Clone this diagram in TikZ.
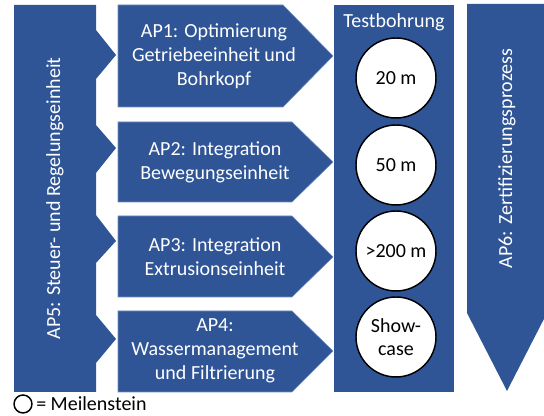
\documentclass[tikz,border=0pt]{standalone}
\usepackage{fontspec}
\setmainfont{Carlito}
\definecolor{apblue}{RGB}{47,85,151}
\definecolor{apedge}{RGB}{110,140,190}

\begin{document}
\begin{tikzpicture}[x=0.75pt,y=0.75pt,yscale=-1,xscale=1,
  apbox/.style={fill=apblue, draw=apedge, line width=0.4pt},
  aptext/.style={text=white, align=center, inner sep=0.75pt, font=\fontsize{15}{18}\selectfont},
  milestone/.style={circle, draw=black, fill=white, line width=1.1pt, minimum size=60pt, inner sep=0pt, align=center, font=\fontsize{15}{17}\selectfont}]
\useasboundingbox (0,0) rectangle (544,416);
% AP5 bar with notches
\fill [apblue] (14,5) -- (96,5) -- (96,30) -- (116,55) -- (96,79) -- (96,125) -- (116,148) -- (96,173) -- (96,215) -- (116,241) -- (96,263) -- (96,315) -- (116,339) -- (96,363) -- (96,392) -- (14,392) -- cycle ;
\node [aptext, rotate=90] (ap5) at (55,198.5) {AP5: Steuer- und Regelungseinheit};
% AP1 - AP4
\draw [apbox] (118,5) -- (283,5) -- (333,56) -- (283,107) -- (118,107) -- cycle ;
\draw [apbox] (118,122) -- (292,122) -- (333,162) -- (292,202) -- (118,202) -- cycle ;
\draw [apbox] (118,216) -- (292,216) -- (333,257) -- (292,297) -- (118,297) -- cycle ;
\draw [apbox] (118,311) -- (292,311) -- (333,351) -- (292,392) -- (118,392) -- cycle ;
\node [aptext] (ap1) at (214,56) {AP1: Optimierung\\Getriebeeinheit und\\Bohrkopf};
\node [aptext] (ap2) at (215,162) {AP2: Integration\\Bewegungseinheit};
\node [aptext] (ap3) at (215,257) {AP3: Integration\\Extrusionseinheit};
\node [aptext] (ap4) at (215,351) {AP4:\\Wassermanagement\\und Filtrierung};
% Testbohrung
\fill [apblue] (334,5) rectangle (454,392) ;
\node [aptext] (test) at (394,22) {Testbohrung};
\node [milestone] (m1) at (396,78) {20 m};
\node [milestone] (m2) at (396,165) {50 m};
\node [milestone] (m3) at (396,251) {>200 m};
\node [milestone] (m4) at (396,337) {Show-\\case};
% AP6
\fill [apblue] (467,4) -- (547,4) -- (547,313) -- (507,391) -- (467,313) -- cycle ;
\node [aptext, rotate=90] (ap6) at (507,158.5) {AP6: Zertifizierungsprozess};
% legend
\node [circle, draw=black, line width=1.1pt, minimum size=13.5pt, inner sep=0pt] (leg) at (23,404) {};
\node [anchor=west, inner sep=0.75pt, font=\fontsize{15}{17}\selectfont] (legtxt) at (35,404) {= Meilenstein};
\end{tikzpicture}
\end{document}
